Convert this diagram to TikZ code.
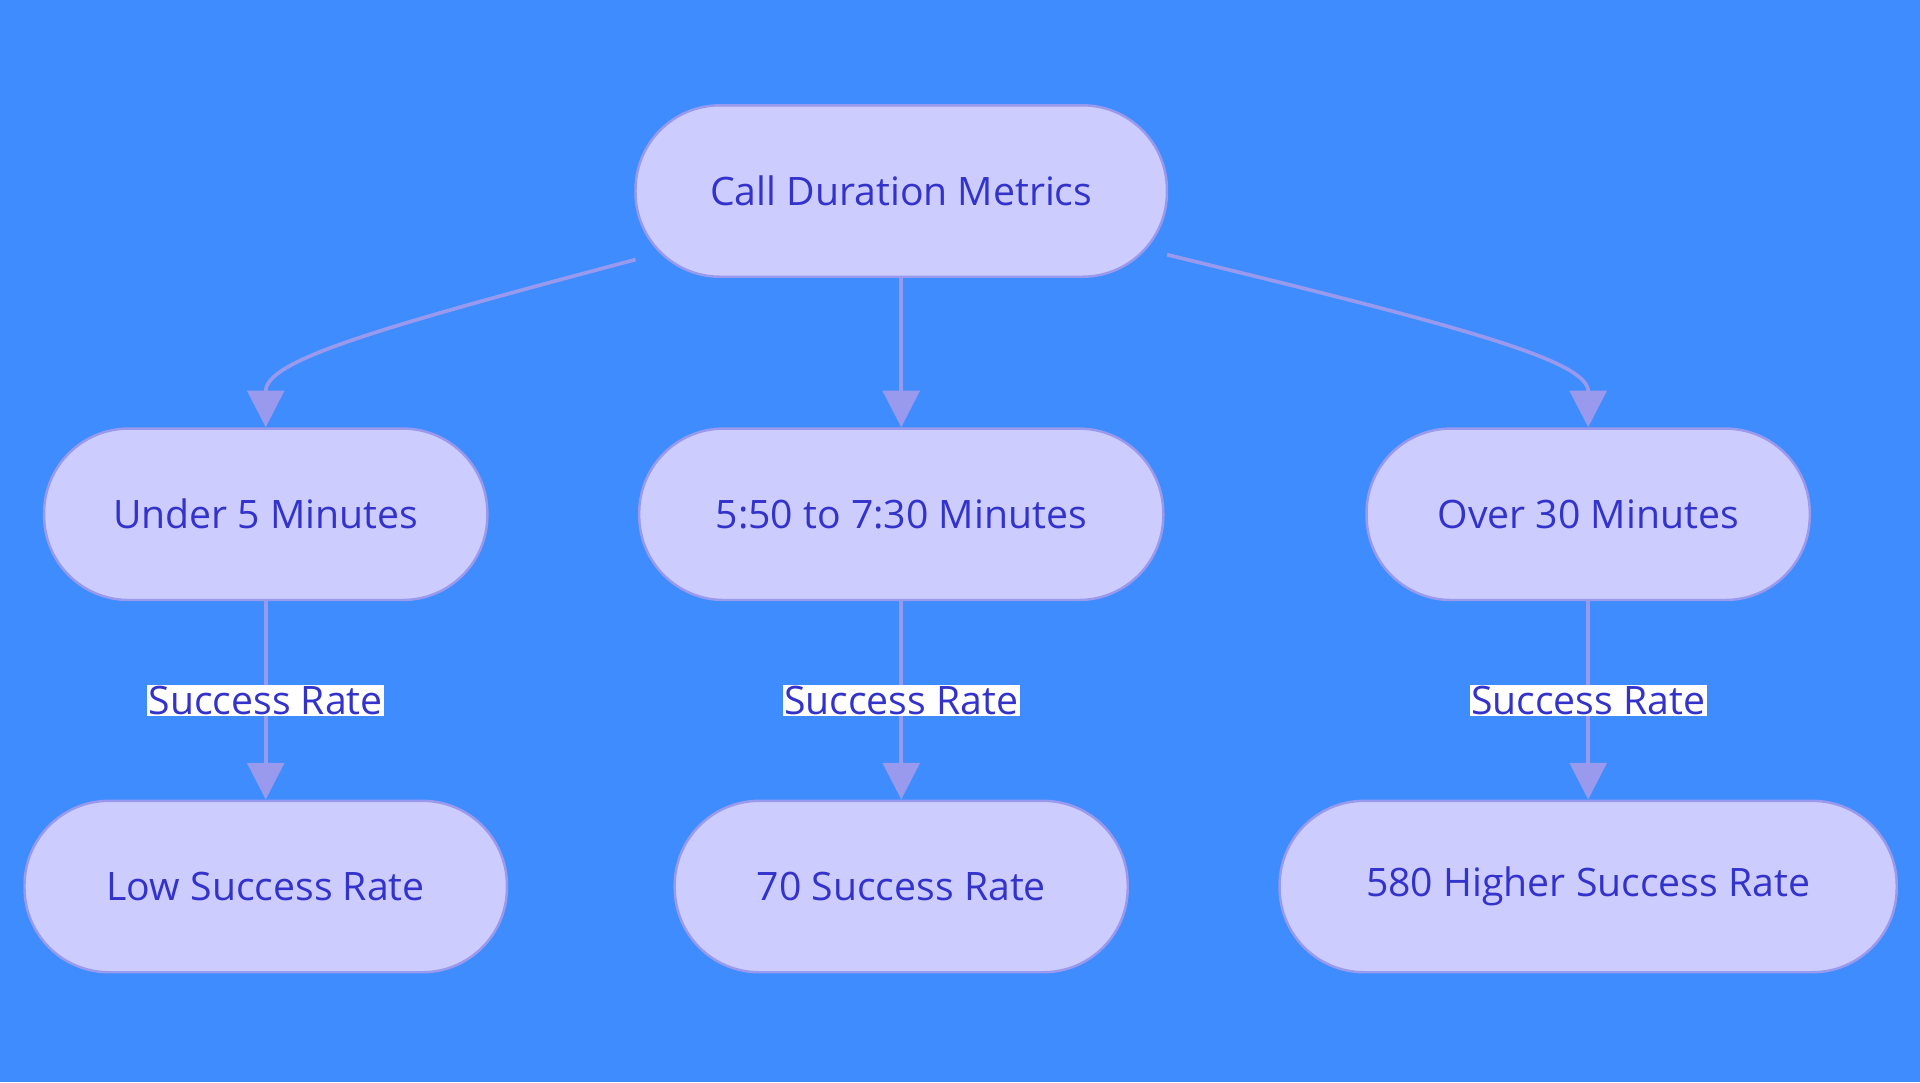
\documentclass[tikz,border=0pt]{standalone}
\usepackage{fontspec}
\setmainfont{Open Sans}
\usetikzlibrary{arrows.meta}
\definecolor{bg}{HTML}{3F8CFF}
\definecolor{nf}{HTML}{CCCCFF}
\definecolor{nb}{HTML}{9999EE}
\definecolor{tx}{HTML}{3333CC}
\begin{document}
\begin{tikzpicture}[x=0.5pt,y=-0.5pt,
  box/.style={draw=nb,fill=nf,line width=1pt,rounded corners=34.5pt,minimum height=70pt,inner sep=0pt,text=tx,font=\fontsize{16}{18}\selectfont},
  lbl/.style={fill=white,text=tx,inner sep=0.5pt,font=\fontsize{16}{18}\selectfont},
  edge/.style={draw=nb,line width=1.5pt,-{Triangle[length=15pt,width=15pt]}}]
\fill[bg] (0,0) rectangle (1568,884);
\node[box,minimum width=217pt] (top) at (736,156) {Call Duration Metrics};
\node[box,minimum width=181pt] (u5) at (217,420) {Under 5 Minutes};
\node[box,minimum width=214pt] (m) at (736,420) {5:50 to 7:30 Minutes};
\node[box,minimum width=181pt] (o30) at (1297,420) {Over 30 Minutes};
\node[box,minimum width=197pt] (low) at (217,724) {Low Success Rate};
\node[box,minimum width=185pt] (s70) at (736,724) {70 Success Rate};
\node[box,minimum width=252pt] (s580) at (1297,724) {580 Higher Success Rate};
\coordinate (tl) at (519,212);
\coordinate (tr) at (953,208);
\draw[edge] (tl) .. controls (300,270) and (217,295) .. (u5.north);
\draw[edge] (top) -- (m);
\draw[edge] (tr) .. controls (1200,268) and (1297,295) .. (o30.north);
\draw[edge] (u5) -- node[lbl]{Success Rate} (low);
\draw[edge] (m) -- node[lbl]{Success Rate} (s70);
\draw[edge] (o30) -- node[lbl]{Success Rate} (s580);
\end{tikzpicture}
\end{document}
